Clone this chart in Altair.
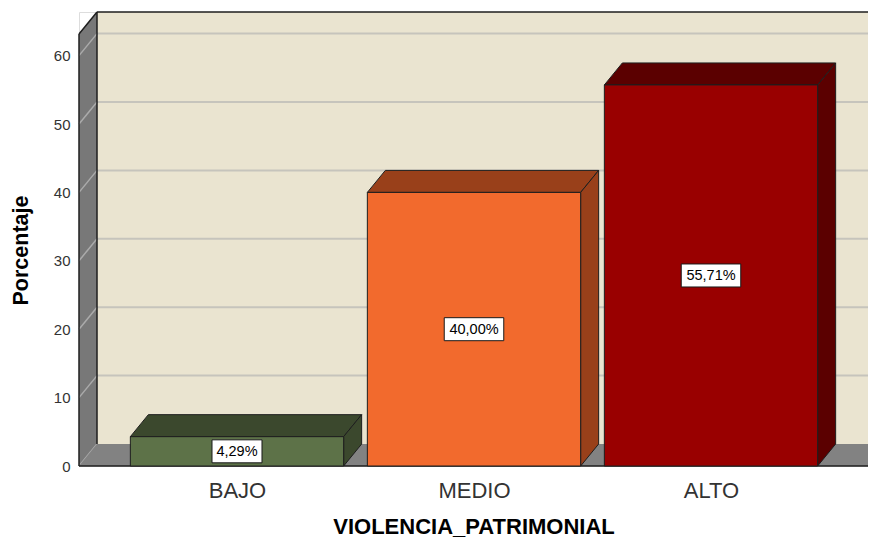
import json
import altair as alt
import pandas as pd

# ---- data ----
categories = ["BAJO", "MEDIO", "ALTO"]
values = [4.29, 40.00, 55.71]
value_labels = ["4,29%", "40,00%", "55,71%"]
y_ticks = [0, 10, 20, 30, 40, 50, 60]

# ---- style ----
front_colors = ["#5D7248", "#F26A2D", "#990000"]
shade_colors = ["#3B482D", "#99401A", "#5B0000"]
WALL = "#EAE4D0"
SIDE = "#787878"
FLOOR = "#828282"
EDGE = "#1e1e1e"
FONT = "Liberation Sans"

PX_CAT = 237.0      # pixels between category centres
PX_UNIT = 6.84      # pixels per percent
W, H = 789, 454     # plot area
X0 = -158.0 / PX_CAT
X1 = X0 + W / PX_CAT
YTOP = H / PX_UNIT
DX = 18.0 / PX_CAT   # 3D depth, horizontal
DY = 22.0 / PX_UNIT  # 3D depth, vertical
HALF = 0.45

xscale = alt.Scale(domain=[X0, X1], nice=False, zero=False)
yscale = alt.Scale(domain=[0, YTOP], nice=False, zero=False)

label_expr = json.dumps(categories) + "[datum.value]"
xaxis = alt.Axis(values=list(range(len(categories))), labelExpr=label_expr,
                 grid=False, domain=False, ticks=False, labelPadding=14,
                 labelFontSize=22, labelColor="#333333", labelFont=FONT,
                 title="VIOLENCIA_PATRIMONIAL", titleFont=FONT, titleFontSize=22,
                 titleFontWeight="bold", titleColor="#000000", titlePadding=15)
yaxis = alt.Axis(values=y_ticks, grid=False, domain=False, ticks=False,
                 labelPadding=9, labelFontSize=15, labelColor="#333333", labelFont=FONT,
                 title="Porcentaje", titleFont=FONT, titleFontSize=21.5,
                 titleFontWeight="bold", titleColor="#000000", titlePadding=21,
                 titleY=238)


def X(f):
    return alt.X(f, type="quantitative", scale=xscale, axis=xaxis)


def Y(f):
    return alt.Y(f, type="quantitative", scale=yscale, axis=yaxis)


# back wall
wall_df = pd.DataFrame({"x": [X0 + DX], "x2": [X1], "y": [DY], "y2": [YTOP]})
wall = alt.Chart(wall_df).mark_rect(fill=WALL, clip=True).encode(
    x=X("x"), x2="x2", y=Y("y"), y2="y2")

grid_df = pd.DataFrame({"x": [X0 + DX] * (len(y_ticks) - 1),
                        "x2": [X1] * (len(y_ticks) - 1),
                        "y": [t + DY for t in y_ticks[1:]]})
grid = alt.Chart(grid_df).mark_rule(color="#C6C4BC", strokeWidth=2, clip=True).encode(
    x=X("x"), x2="x2", y=Y("y"))

# left side panel
side_df = pd.DataFrame({"x": [X0, X0 + DX], "y": [0, DY], "y2": [YTOP - DY, YTOP]})
side = alt.Chart(side_df).mark_area(orient="vertical", fill=SIDE, opacity=1).encode(
    x=X("x"), y=Y("y"), y2="y2")

sg_rows = []
for t in y_ticks:
    sg_rows.append({"t": t, "o": 0, "x": X0, "y": t})
    sg_rows.append({"t": t, "o": 1, "x": X0 + DX, "y": t + DY})
side_grid = alt.Chart(pd.DataFrame(sg_rows)).mark_line(color="#ABABAB", strokeWidth=1.5).encode(
    x=X("x"), y=Y("y"), detail="t:N", order="o:Q")

# floor
floor_df = pd.DataFrame({"y": [0, DY], "x": [X0, X0 + DX], "x2": [X1, X1 + DX]})
floor = alt.Chart(floor_df).mark_area(orient="horizontal", fill=FLOOR, opacity=1, clip=True).encode(
    y=Y("y"), x=X("x"), x2="x2")

# edges of the frame
edges = [
    [(X0, 0), (X0, YTOP - DY)],
    [(X0, YTOP - DY), (X0 + DX, YTOP)],
    [(X0 + DX, YTOP), (X1, YTOP)],
    [(X0 + DX, DY), (X0 + DX, YTOP)],
    [(X0, 0), (X1, 0)],
]
e_rows = []
for k, seg in enumerate(edges):
    for o, (ex, ey) in enumerate(seg):
        e_rows.append({"s": k, "o": o, "x": ex, "y": ey})
edge = alt.Chart(pd.DataFrame(e_rows)).mark_line(color=EDGE, strokeWidth=1.5).encode(
    x=X("x"), y=Y("y"), detail="s:N", order="o:Q")

# bars
top_rows, side_rows, front_rows, lab_rows = [], [], [], []
for i, (c, v, lab) in enumerate(zip(categories, values, value_labels)):
    top_rows.append({"c": c, "col": shade_colors[i], "y": v, "x": i - HALF, "x2": i + HALF})
    top_rows.append({"c": c, "col": shade_colors[i], "y": v + DY, "x": i - HALF + DX, "x2": i + HALF + DX})
    side_rows.append({"c": c, "col": shade_colors[i], "x": i + HALF, "y": 0, "y2": v})
    side_rows.append({"c": c, "col": shade_colors[i], "x": i + HALF + DX, "y": DY, "y2": v + DY})
    front_rows.append({"c": c, "col": front_colors[i], "x": i - HALF, "x2": i + HALF, "y": 0, "y2": v})
    bw = 9.5 * len(lab) + 2.5
    bh = 23.0
    hx, hy = bw / 60.0, bh / 60.0
    path = f"M{-hx:.4f},{-hy:.4f}L{hx:.4f},{-hy:.4f}L{hx:.4f},{hy:.4f}L{-hx:.4f},{hy:.4f}Z"
    lab_rows.append({"c": c, "x": i, "y": v / 2.0, "lab": lab, "path": path})

bar_top = alt.Chart(pd.DataFrame(top_rows)).mark_area(
    orient="horizontal", stroke=EDGE, strokeWidth=1, opacity=1).encode(
    y=Y("y"), x=X("x"), x2="x2", color=alt.Color("col:N", scale=None), detail="c:N")
bar_side = alt.Chart(pd.DataFrame(side_rows)).mark_area(
    orient="vertical", stroke=EDGE, strokeWidth=1, opacity=1).encode(
    x=X("x"), y=Y("y"), y2="y2", color=alt.Color("col:N", scale=None), detail="c:N")
bar_front = alt.Chart(pd.DataFrame(front_rows)).mark_rect(
    stroke=EDGE, strokeWidth=1).encode(
    x=X("x"), x2="x2", y=Y("y"), y2="y2", color=alt.Color("col:N", scale=None))

lab_df = pd.DataFrame(lab_rows)
box = alt.Chart(lab_df).mark_point(filled=True, fill="white", stroke="#1a1a1a",
                                   strokeWidth=1, opacity=1, size=3600).encode(
    x=X("x"), y=Y("y"), shape=alt.Shape("path:N", scale=None))
text = alt.Chart(lab_df).mark_text(font=FONT, fontSize=14.5, color="#000000",
                                   baseline="middle", dy=0.5).encode(
    x=X("x"), y=Y("y"), text="lab:N")

chart = alt.layer(wall, grid, side, side_grid, floor, edge, bar_top, bar_side,
                  bar_front, box, text).properties(
    width=W, height=H,
    autosize=alt.AutoSizeParams(type="none"),
    padding={"left": 71, "top": 4, "right": 0, "bottom": 71},
    background="white",
).configure_view(stroke=None).configure(font=FONT)

chart.save("out.html", embed_options={"renderer": "svg", "actions": False})
